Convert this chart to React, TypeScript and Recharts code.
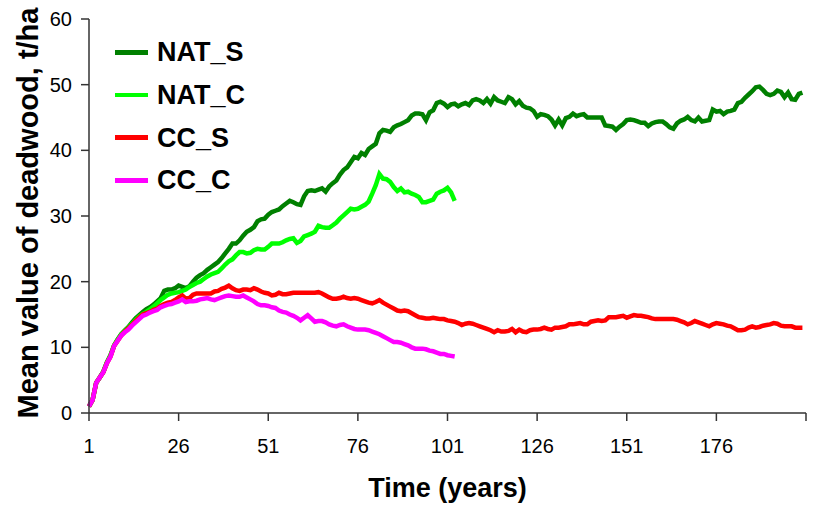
import React from "react";
import { LineChart, Line, XAxis, YAxis, Label } from "recharts";

// Simulation years 1..200 (managed "C" scenarios stop at year 103)
const natS = [
  1.0, 2.0, 4.6, 5.4, 6.3, 7.7, 8.8, 10.3, 11.2, 12.0,
  12.6, 13.1, 13.8, 14.4, 14.9, 15.4, 15.8, 16.1, 16.5, 17.0,
  17.5, 18.6, 18.8, 18.8, 19.0, 19.4, 19.2, 19.0, 19.3, 20.0,
  20.6, 21.0, 21.3, 21.8, 22.2, 22.6, 23.0, 23.6, 24.3, 25.0,
  25.8, 25.8, 26.3, 27.0, 27.6, 27.9, 28.3, 29.2, 29.5, 29.6,
  30.2, 30.6, 30.8, 31.0, 31.5, 31.9, 32.3, 32.1, 31.8, 31.7,
  33.0, 33.8, 33.9, 33.8, 34.0, 34.2, 33.7, 34.5, 35.0, 35.4,
  36.3, 37.0, 37.4, 38.2, 39.0, 38.8, 39.6, 39.3, 40.2, 40.6,
  41.0, 42.6, 43.1, 43.0, 42.8, 43.5, 43.8, 44.0, 44.3, 44.6,
  45.3, 45.6, 45.6, 45.5, 44.6, 45.8, 46.1, 47.2, 47.4, 47.1,
  46.6, 47.0, 47.1, 46.7, 47.0, 47.2, 46.9, 47.6, 47.8, 47.6,
  47.2, 47.8, 47.1, 48.1, 47.6, 47.4, 47.2, 48.1, 47.8, 47.0,
  47.5, 46.8, 46.5, 46.4, 46.0, 45.1, 45.5, 45.4, 45.2, 44.7,
  43.8, 44.7, 43.8, 44.9, 45.1, 45.6, 45.2, 45.4, 45.5, 45.0,
  45.0, 45.0, 45.0, 45.0, 43.8, 43.7, 43.6, 43.1, 43.6, 44.0,
  44.6, 44.7, 44.6, 44.4, 44.2, 44.2, 43.7, 44.1, 44.3, 44.4,
  44.4, 44.0, 43.5, 43.3, 44.1, 44.5, 44.7, 45.1, 44.6, 44.4,
  45.0, 44.4, 44.5, 44.6, 46.2, 45.9, 46.0, 45.5, 45.9, 46.0,
  46.2, 47.2, 47.4, 48.0, 48.5, 49.0, 49.6, 49.7, 49.2, 48.6,
  48.4, 48.6, 49.1, 48.9, 48.1, 48.8, 47.8, 47.7, 48.6, 48.8,
];

const natC = [
  1.0, 2.0, 4.6, 5.4, 6.3, 7.7, 8.8, 10.3, 11.2, 12.0,
  12.5, 13.0, 13.6, 14.2, 14.7, 15.1, 15.4, 15.8, 16.2, 16.7,
  17.2, 17.6, 18.0, 18.2, 18.3, 18.4, 18.6, 18.8, 19.2, 19.5,
  19.8, 20.0, 20.4, 20.8, 21.1, 21.3, 21.5, 22.0, 22.6, 23.1,
  23.4, 24.0, 24.5, 24.5, 24.3, 24.4, 24.8, 25.0, 24.9, 24.9,
  25.3, 25.8, 25.8, 25.8, 26.0, 26.3, 26.5, 26.6, 25.9, 26.2,
  26.9, 27.1, 27.3, 27.6, 28.5, 28.3, 28.2, 28.2, 28.6, 29.0,
  29.6, 30.1, 30.6, 31.1, 31.0, 31.1, 31.4, 31.7, 32.2, 33.4,
  34.7, 36.4, 35.7, 35.6, 35.2, 34.4, 33.8, 34.2, 33.6, 33.7,
  33.4, 33.2, 32.9, 32.1, 32.1, 32.3, 32.5, 33.4, 33.7, 33.9,
  34.3, 33.6, 32.3,
];

const ccS = [
  1.0, 2.0, 4.6, 5.4, 6.2, 7.6, 8.6, 10.2, 11.0, 11.8,
  12.4, 12.9, 13.4, 14.0, 14.5, 15.0, 15.2, 15.4, 15.7, 15.9,
  16.3, 16.6, 16.8, 16.9, 17.2, 17.6, 17.9, 17.4, 17.5, 18.0,
  18.2, 18.2, 18.2, 18.2, 18.2, 18.5, 18.6, 18.9, 19.1, 19.4,
  19.0, 18.7, 18.6, 18.8, 18.8, 18.7, 19.0, 18.8, 18.5, 18.3,
  18.2, 17.9, 18.0, 18.3, 18.1, 18.1, 18.2, 18.3, 18.3, 18.3,
  18.3, 18.3, 18.3, 18.3, 18.4, 18.2, 17.9, 17.6, 17.4, 17.4,
  17.5, 17.7, 17.5, 17.4, 17.5, 17.4, 17.2, 17.0, 16.8, 16.7,
  16.9, 17.2, 16.8, 16.5, 16.2, 15.9, 15.6, 15.5, 15.6, 15.5,
  15.2, 14.9, 14.6, 14.5, 14.4, 14.4, 14.5, 14.4, 14.3, 14.3,
  14.1, 14.0, 13.9, 13.7, 13.4, 13.6, 13.7, 13.6, 13.4, 13.2,
  13.0, 12.8, 12.6, 12.3, 12.6, 12.4, 12.4, 12.5, 12.8, 12.3,
  12.7, 12.4, 12.3, 12.6, 12.7, 12.7, 12.8, 13.0, 12.8, 12.7,
  13.0, 13.0, 13.1, 13.2, 13.5, 13.5, 13.6, 13.7, 13.5, 13.5,
  13.9, 14.0, 14.1, 14.0, 14.1, 14.6, 14.6, 14.6, 14.7, 14.8,
  14.5, 14.7, 14.9, 14.8, 14.8, 14.7, 14.6, 14.4, 14.3, 14.3,
  14.3, 14.3, 14.3, 14.3, 14.2, 14.0, 13.8, 13.5, 13.7, 14.0,
  13.8, 13.6, 13.4, 13.2, 13.5, 13.7, 13.6, 13.5, 13.3, 13.2,
  12.9, 12.6, 12.6, 12.7, 13.0, 13.2, 13.0, 13.1, 13.3, 13.4,
  13.5, 13.7, 13.6, 13.3, 13.2, 13.2, 13.2, 13.0, 13.0, 13.0,
];

const ccC = [
  1.0, 2.0, 4.6, 5.4, 6.2, 7.6, 8.6, 10.2, 11.0, 11.8,
  12.3, 12.7, 13.3, 13.8, 14.3, 14.8, 15.0, 15.3, 15.5, 15.7,
  16.1, 16.3, 16.5, 16.6, 16.8, 17.0, 17.3, 16.9, 17.0, 17.0,
  17.1, 17.3, 17.4, 17.5, 17.3, 17.2, 17.4, 17.6, 17.8, 17.9,
  17.8, 17.7, 17.7, 17.9, 17.6, 17.3, 17.0, 16.6, 16.4, 16.4,
  16.3, 16.1, 16.0, 15.6, 15.4, 15.3, 15.0, 14.8, 14.5, 14.1,
  14.5, 14.9, 14.4, 13.9, 14.0, 14.0, 13.8, 13.5, 13.3, 13.2,
  13.4, 13.5, 13.2, 13.0, 12.8, 12.7, 12.7, 12.7, 12.6, 12.4,
  12.2, 12.0, 11.7, 11.4, 11.1, 10.8, 10.8, 10.7, 10.5, 10.3,
  10.0, 9.8, 9.8, 9.8, 9.7, 9.5, 9.4, 9.2, 9.0, 9.0,
  8.8, 8.7, 8.6,
];

const xTicks = [1, 26, 51, 76, 101, 126, 151, 176, 201];
const yTicks = [0, 10, 20, 30, 40, 50, 60];

const seriesInfo = [
  { key: "NAT_S", color: "#008000" },
  { key: "NAT_C", color: "#00FF00" },
  { key: "CC_S", color: "#FF0000" },
  { key: "CC_C", color: "#FF00FF" },
];

const rows = natS.map((v, i) => ({
  year: i + 1,
  NAT_S: v,
  NAT_C: i < natC.length ? natC[i] : undefined,
  CC_S: ccS[i],
  CC_C: i < ccC.length ? ccC[i] : undefined,
}));

const FONT = "'Liberation Sans', Arial, sans-serif";
const AXIS = "#333333";

function LegendBox() {
  return (
    <div style={{ position: "absolute", left: 115, top: 31, fontFamily: FONT }}>
      {seriesInfo.map((s) => (
        <div
          key={s.key}
          style={{ display: "flex", alignItems: "center", height: 42.7 }}
        >
          <div style={{ width: 33, height: 4.5, background: s.color, marginRight: 9 }} />
          <span style={{ fontSize: 27, fontWeight: 700, color: "#000", lineHeight: "30px" }}>
            {s.key}
          </span>
        </div>
      ))}
    </div>
  );
}

function YTitle(props: any) {
  const vb = props.viewBox || {};
  const cy = vb.y + vb.height / 2;
  return (
    <text
      x={38}
      y={cy - 3}
      transform={`rotate(-90, 38, ${cy - 3})`}
      textAnchor="middle"
      fontFamily={FONT}
      fontWeight={700}
      fontSize={29}
      fill="#000"
    >
      Mean value of deadwood, t/ha
    </text>
  );
}

function XTitle(props: any) {
  const vb = props.viewBox || {};
  const cx = vb.x + vb.width / 2;
  return (
    <text
      x={cx}
      y={497}
      textAnchor="middle"
      fontFamily={FONT}
      fontWeight={700}
      fontSize={27}
      fill="#000"
    >
      Time (years)
    </text>
  );
}

export default function App() {
  return (
    <div style={{ position: "absolute", left: 0, top: 0, width: 819, height: 508, background: "#fff" }}>
      <LineChart
        width={819}
        height={508}
        data={rows}
        margin={{ top: 19, right: 13, bottom: 0, left: 0 }}
      >
        <XAxis
          dataKey="year"
          type="number"
          domain={[1, 201]}
          ticks={xTicks}
          interval={0}
          tickFormatter={(v: number) => (v === 201 ? "" : String(v))}
          height={95}
          stroke={AXIS}
          strokeWidth={1.5}
          tickSize={8}
          tickMargin={18}
          tick={{ fill: "#000", fontSize: 20, fontFamily: FONT }}
        >
          <Label content={<XTitle />} />
        </XAxis>
        <YAxis
          type="number"
          domain={[0, 60]}
          ticks={yTicks}
          interval={0}
          width={89}
          stroke={AXIS}
          strokeWidth={1.5}
          tickSize={8}
          tickMargin={9}
          tick={{ fill: "#000", fontSize: 20, fontFamily: FONT }}
        >
          <Label content={<YTitle />} />
        </YAxis>
        {seriesInfo.map((s) => (
          <Line
            key={s.key}
            type="linear"
            dataKey={s.key}
            stroke={s.color}
            strokeWidth={4.5}
            dot={false}
            activeDot={false}
            isAnimationActive={false}
          />
        ))}
      </LineChart>
      <LegendBox />
    </div>
  );
}
